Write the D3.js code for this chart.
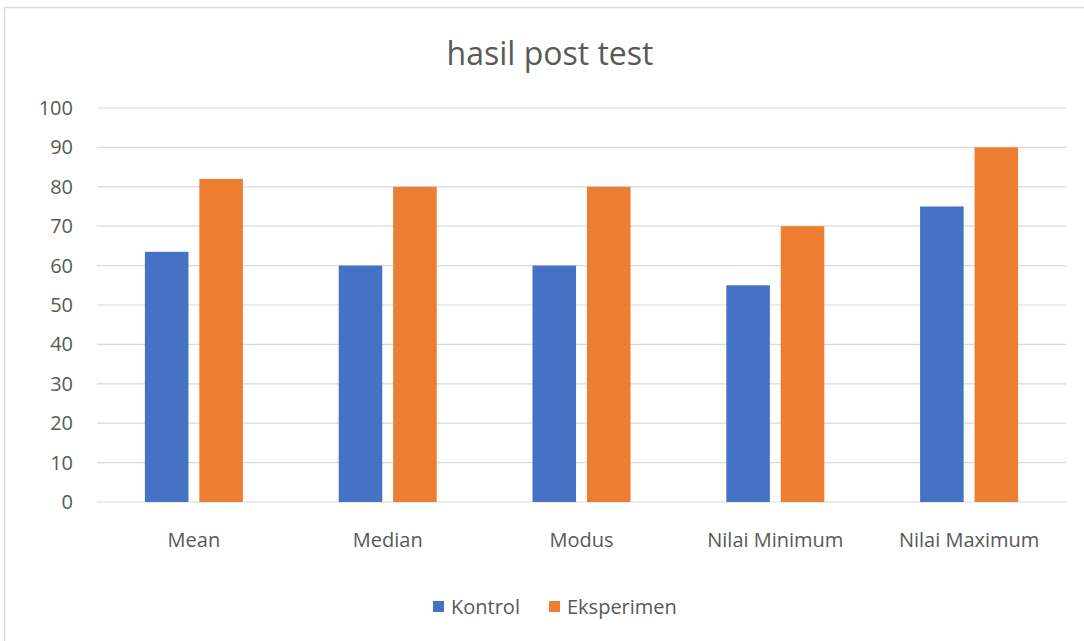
<!DOCTYPE html>
<html>
<head>
<meta charset="utf-8">
<script src="https://cdn.jsdelivr.net/npm/d3@7"></script>
<style>
body{margin:0;background:#fff;}
svg{display:block;font-family:"Open Sans",Lato,sans-serif;}
</style>
</head>
<body>
<svg id="chart" width="1084" height="641"></svg>
<script>
let categories=["Mean","Median","Modus","Nilai Minimum","Nilai Maximum"];
let seriesNames=["Kontrol","Eksperimen"];
let kontrol=[63.5,60,60,55,75];
let eksperimen=[82,80,80,70,90];
let yTicks=[0,10,20,30,40,50,60,70,80,90,100];
let colors={"Kontrol":"#4472c4","Eksperimen":"#ed7d31"};

let svg=d3.select("#chart");
let W=1084,H=641;
let pLeft=97,pRight=1066,pTop=108,pBottom=502;

// chart border
svg.append("rect").attr("x",4.5).attr("y",7.5).attr("width",W+10).attr("height",H+10)
  .attr("fill","#fff").attr("stroke","#d9d9d9").attr("stroke-width",1.5);

let x0=d3.scaleBand().domain(categories).range([pLeft,pRight]).paddingInner(0).paddingOuter(0);
let x1=d3.scaleBand().domain(seriesNames).range([x0.bandwidth()/2-49,x0.bandwidth()/2+49]).paddingInner(0.2).paddingOuter(0);
let y=d3.scaleLinear().domain([0,100]).range([pBottom,pTop]);

// gridlines
svg.append("g").selectAll("line").data(yTicks).enter().append("line")
  .attr("x1",pLeft).attr("x2",pRight)
  .attr("y1",d=>y(d)).attr("y2",d=>y(d))
  .attr("stroke","#d9d9d9").attr("stroke-width",1.2);

// y axis labels
let yAxis=d3.axisLeft(y).tickValues(yTicks).tickSize(0).tickPadding(24);
let ya=svg.append("g").attr("transform","translate("+pLeft+",0)").call(yAxis);
ya.select(".domain").remove();
ya.selectAll("text").style("font-size","20px").attr("fill","#595959").attr("font-family","'Open Sans',sans-serif");

// x axis labels
let xAxis=d3.axisBottom(x0).tickSize(0).tickPadding(31);
let xa=svg.append("g").attr("transform","translate(0,"+pBottom+")").call(xAxis);
xa.select(".domain").remove();
xa.selectAll("text").style("font-size","20px").attr("fill","#595959").attr("font-family","'Open Sans',sans-serif");

// bars
let rows=categories.map((c,i)=>({cat:c,vals:[{s:"Kontrol",v:kontrol[i]},{s:"Eksperimen",v:eksperimen[i]}]}));
let groups=svg.append("g").selectAll("g").data(rows).enter().append("g")
  .attr("transform",d=>"translate("+x0(d.cat)+",0)");
groups.selectAll("rect").data(d=>d.vals).enter().append("rect")
  .attr("x",d=>x1(d.s)).attr("width",x1.bandwidth())
  .attr("y",d=>y(d.v)).attr("height",d=>y(0)-y(d.v))
  .attr("fill",d=>colors[d.s]);

// title
svg.append("text").attr("x",550).attr("y",65).attr("text-anchor","middle")
  .style("font-size","32px").attr("fill","#595959").text("hasil post test");

// legend
let legX=[433,549];
let leg=svg.append("g").selectAll("g").data(seriesNames).enter().append("g")
  .attr("transform",(d,i)=>"translate("+legX[i]+",601)");
leg.append("rect").attr("width",11).attr("height",11).attr("fill",d=>colors[d]);
leg.append("text").attr("x",18).attr("y",13).style("font-size","20px").attr("fill","#595959").text(d=>d);
</script>
</body>
</html>
